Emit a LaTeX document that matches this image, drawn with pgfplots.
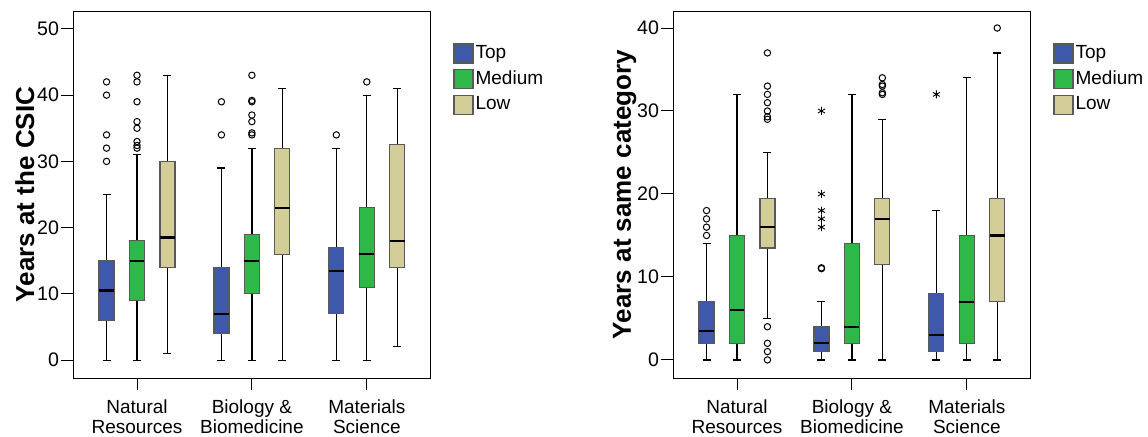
\documentclass[border=0pt]{standalone}
\usepackage{pgfplots}
\pgfplotsset{compat=1.18}
\usepgfplotslibrary{statistics}
\usepackage{fontspec}
\setmainfont{Liberation Sans}

\definecolor{topc}{RGB}{62,88,172}
\definecolor{medc}{RGB}{46,184,72}
\definecolor{lowc}{RGB}{211,206,151}

\pgfplotsset{
  spssbox/.style={
    scale only axis, width=178.5pt, height=183.5pt,
    xmin=0.443, xmax=3.55,
    xtick={1,2,3},
    xticklabels={{Natural\\Resources},{Biology \&\\Biomedicine},{Materials\\Science}},
    xticklabel style={align=center, font=\fontsize{9.5}{10}\selectfont, yshift=-1.5pt},
    yticklabel style={font=\fontsize{9.8}{10}\selectfont, xshift=2.5pt},
    /pgf/number format/assume math mode=true,
    tick align=outside, xtick pos=lower, ytick pos=left,
    major tick length=6pt,
    tick style={black, line width=0.5pt},
    axis line style={line width=0.5pt},
    ylabel style={font=\fontsize{13}{14}\selectfont\bfseries, anchor=center},
    boxplot/draw direction=y,
    boxplot/box extend=0.13,
    boxplot/whisker extend=0.07,
    boxplot/every box/.style={draw=black!65, line width=0.6pt},
    boxplot/every whisker/.style={draw=black, line width=0.6pt},
    boxplot/every median/.style={draw=black, line width=1.1pt},
    legend style={at={(1,1)}, anchor=north west, xshift=11.5pt, yshift=-16pt,
      draw=none, fill=none, inner sep=0pt, row sep=2.6pt,
      font=\fontsize{9.5}{10}\selectfont, cells={anchor=west},
      nodes={inner sep=1pt}},
  },
  outl/.style={only marks, mark=o, mark size=1.6pt, black, line width=0.5pt, forget plot},
  extr/.style={only marks, mark=asterisk, mark size=2pt, black, line width=0.45pt, forget plot},
  topbox/.style={fill=topc, forget plot},
  medbox/.style={fill=medc, forget plot},
  lowbox/.style={fill=lowc, forget plot},
}

\newcommand{\legsq}[1]{\addlegendimage{legend image code/.code={\draw[fill=#1, draw=black!65, line width=0.6pt] (0pt,-4.75pt) rectangle (9.5pt,4.75pt);}}}

\begin{document}
\begin{tikzpicture}
\useasboundingbox (0,0) rectangle (574pt,218pt);

% left panel
\begin{axis}[spssbox, at={(36.5pt,29pt)}, anchor=south west,
  ymin=-2.7, ymax=52.7, ytick={0,10,20,30,40,50},
  ylabel={Years at the CSIC},
  ylabel style={at={(axis description cs:-0.135,0.5)}}]
\legsq{topc}\addlegendentry{Top}
\legsq{medc}\addlegendentry{Medium}
\legsq{lowc}\addlegendentry{Low}

\addplot[topbox, boxplot prepared={draw position=0.735, lower whisker=0, lower quartile=6, median=10.5, upper quartile=15, upper whisker=25}] coordinates {};
\addplot[medbox, boxplot prepared={draw position=1, lower whisker=0, lower quartile=9, median=15, upper quartile=18, upper whisker=31}] coordinates {};
\addplot[lowbox, boxplot prepared={draw position=1.265, lower whisker=1, lower quartile=14, median=18.5, upper quartile=30, upper whisker=43}] coordinates {};

\addplot[topbox, boxplot prepared={draw position=1.735, lower whisker=0, lower quartile=4, median=7, upper quartile=14, upper whisker=29}] coordinates {};
\addplot[medbox, boxplot prepared={draw position=2, lower whisker=0, lower quartile=10, median=15, upper quartile=19, upper whisker=32}] coordinates {};
\addplot[lowbox, boxplot prepared={draw position=2.265, lower whisker=0, lower quartile=16, median=23, upper quartile=32, upper whisker=41}] coordinates {};

\addplot[topbox, boxplot prepared={draw position=2.735, lower whisker=0, lower quartile=7, median=13.5, upper quartile=17, upper whisker=32}] coordinates {};
\addplot[medbox, boxplot prepared={draw position=3, lower whisker=0, lower quartile=11, median=16, upper quartile=23, upper whisker=40}] coordinates {};
\addplot[lowbox, boxplot prepared={draw position=3.265, lower whisker=2, lower quartile=14, median=18, upper quartile=32.5, upper whisker=41}] coordinates {};

% outliers
\addplot[outl] coordinates {(0.735,30) (0.735,32) (0.735,34) (0.735,40) (0.735,42)};
\addplot[outl] coordinates {(1,32) (1,32.4) (1,33) (1,35) (1,36) (1,39) (1,42) (1,43)};
\addplot[outl] coordinates {(1.735,34) (1.735,39)};
\addplot[outl] coordinates {(2,34) (2,34.3) (2,36) (2,37) (2,39) (2,39.2) (2,43)};
\addplot[outl] coordinates {(2.735,34)};
\addplot[outl] coordinates {(3,42)};
\end{axis}

% right panel
\begin{axis}[spssbox, at={(336.5pt,29pt)}, anchor=south west,
  ymin=-2.18, ymax=42.05, ytick={0,10,20,30,40},
  ylabel={Years at same category},
  ylabel style={at={(axis description cs:-0.135,0.5)}}]
\legsq{topc}\addlegendentry{Top}
\legsq{medc}\addlegendentry{Medium}
\legsq{lowc}\addlegendentry{Low}

\addplot[topbox, boxplot prepared={draw position=0.735, lower whisker=0, lower quartile=2, median=3.5, upper quartile=7, upper whisker=14}] coordinates {};
\addplot[medbox, boxplot prepared={draw position=1, lower whisker=0, lower quartile=2, median=6, upper quartile=15, upper whisker=32}] coordinates {};
\addplot[lowbox, boxplot prepared={draw position=1.265, lower whisker=5, lower quartile=13.5, median=16, upper quartile=19.5, upper whisker=25}] coordinates {};

\addplot[topbox, boxplot prepared={draw position=1.735, lower whisker=0, lower quartile=1, median=2, upper quartile=4, upper whisker=7}] coordinates {};
\addplot[medbox, boxplot prepared={draw position=2, lower whisker=0, lower quartile=2, median=4, upper quartile=14, upper whisker=32}] coordinates {};
\addplot[lowbox, boxplot prepared={draw position=2.265, lower whisker=0, lower quartile=11.5, median=17, upper quartile=19.5, upper whisker=29}] coordinates {};

\addplot[topbox, boxplot prepared={draw position=2.735, lower whisker=0, lower quartile=1, median=3, upper quartile=8, upper whisker=18}] coordinates {};
\addplot[medbox, boxplot prepared={draw position=3, lower whisker=0, lower quartile=2, median=7, upper quartile=15, upper whisker=34}] coordinates {};
\addplot[lowbox, boxplot prepared={draw position=3.265, lower whisker=0, lower quartile=7, median=15, upper quartile=19.5, upper whisker=37}] coordinates {};

% outliers and extremes
\addplot[outl] coordinates {(0.735,15) (0.735,16) (0.735,17) (0.735,18)};
\addplot[outl] coordinates {(1.265,0) (1.265,1) (1.265,2) (1.265,4) (1.265,29) (1.265,29.3) (1.265,30) (1.265,31) (1.265,32) (1.265,33) (1.265,37)};
\addplot[outl] coordinates {(1.735,11) (1.735,11.1)};
\addplot[extr] coordinates {(1.735,16) (1.735,17) (1.735,18) (1.735,20) (1.735,30)};
\addplot[outl] coordinates {(2.265,32) (2.265,32.2) (2.265,33) (2.265,33.2) (2.265,34)};
\addplot[extr] coordinates {(2.735,32)};
\addplot[outl] coordinates {(3.265,40)};
\end{axis}
\end{tikzpicture}
\end{document}
